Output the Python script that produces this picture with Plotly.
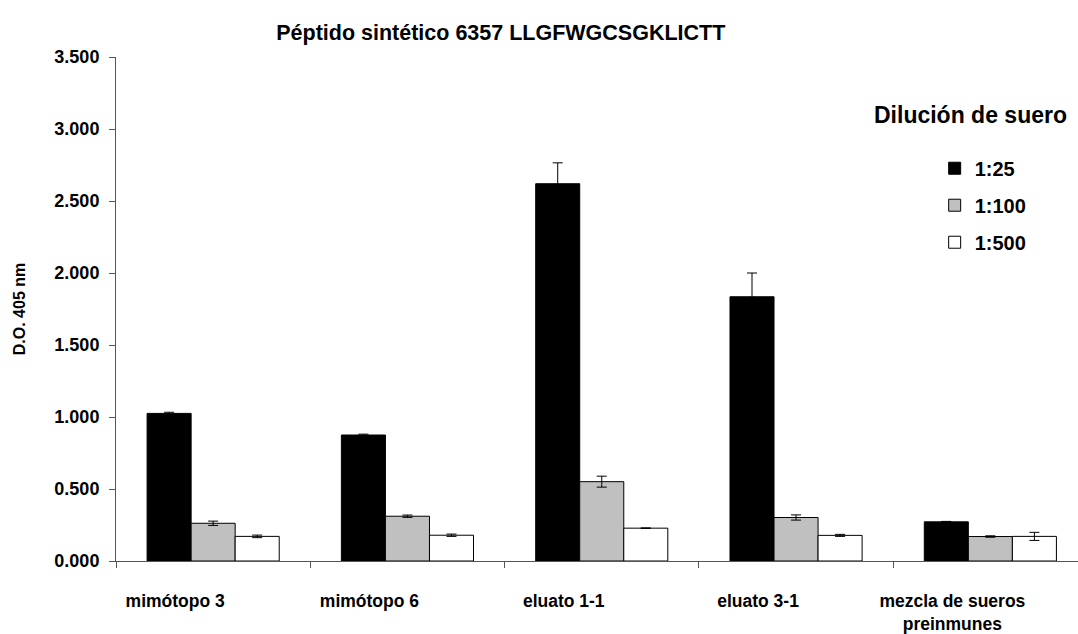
import plotly.graph_objects as go

# Absorbance readings (D.O. 405 nm) per antigen and serum dilution
categories = ["mimótopo 3", "mimótopo 6", "eluato 1-1", "eluato 3-1",
              "mezcla de sueros<br>preinmunes"]
series_names = ["1:25", "1:100", "1:500"]
od_1_25 = [1.025, 0.875, 2.620, 1.835, 0.272]
err_1_25 = [0.008, 0.006, 0.145, 0.165, 0.003]
od_1_100 = [0.262, 0.311, 0.551, 0.302, 0.170]
err_1_100 = [0.015, 0.008, 0.038, 0.018, 0.005]
od_1_500 = [0.171, 0.179, 0.228, 0.178, 0.171]
err_1_500 = [0.009, 0.008, 0.002, 0.007, 0.028]
y_ticks = [0.0, 0.5, 1.0, 1.5, 2.0, 2.5, 3.0, 3.5]

values = [od_1_25, od_1_100, od_1_500]
errors = [err_1_25, err_1_100, err_1_500]
fills = ["#000000", "#c0c0c0", "#ffffff"]

FONT = "Liberation Sans, Arial, sans-serif"

fig = go.Figure()
for name, vals, errs, fill in zip(series_names, values, errors, fills):
    fig.add_trace(go.Bar(
        x=categories, y=vals, name=name, legendgroup=name,
        marker=dict(color=fill, line=dict(color="#000000", width=1)),
        error_y=dict(type="data", array=errs, visible=True,
                     color="#000000", thickness=1, width=5),
    ))

fig.update_layout(
    width=1078, height=634,
    margin=dict(l=116, r=0, t=57, b=71),
    paper_bgcolor="white", plot_bgcolor="white",
    barmode="group", bargap=0.32, bargroupgap=0,
    font=dict(family=FONT, color="#000000"),
    title=dict(text="Péptido sintético 6357 LLGFWGCSGKLICTT",
               font=dict(size=21.5, weight="bold", family=FONT),
               x=0.40, xref="paper", xanchor="center",
               y=1 - 32 / 634, yref="container", yanchor="middle"),
    showlegend=True,
    legend=dict(x=0.851, y=0.818, xanchor="left", yanchor="top",
                font=dict(size=20, weight="bold", family=FONT),
                bgcolor="rgba(0,0,0,0)", tracegroupgap=8,
                traceorder="grouped"),
    xaxis=dict(
        range=[-0.5, -0.5 + 962 / 194.3],
        showline=True, linecolor="#555555", linewidth=1,
        ticks="outside", tickson="boundaries", ticklen=6,
        tickcolor="#555555",
        showgrid=False, zeroline=False,
        ticklabelshift=-38,
        ticklabelstandoff=24,
        tickfont=dict(size=17.5, weight="bold", family=FONT),
    ),
    yaxis=dict(
        range=[0, 3.5], tickvals=y_ticks, tickformat=".3f",
        showline=True, linecolor="#555555", linewidth=1,
        ticks="outside", ticklen=6, tickcolor="#555555",
        showgrid=False, zeroline=False,
        ticklabelstandoff=6,
        tickfont=dict(size=18, weight="bold", family=FONT),
        title=dict(text="D.O. 405 nm", standoff=24,
                   font=dict(size=16, weight="bold", family=FONT)),
    ),
)

fig.add_annotation(
    text="Dilución de suero", xref="paper", yref="paper",
    x=(872 - 116) / 962, y=(563 - 115) / 506,
    xanchor="left", yanchor="middle", showarrow=False,
    font=dict(size=23, weight="bold", family=FONT),
)

fig.write_html("out.html")
